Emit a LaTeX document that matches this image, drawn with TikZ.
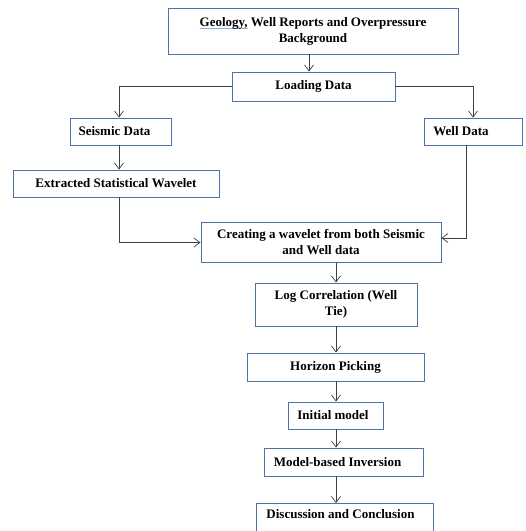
\documentclass[tikz,border=0pt]{standalone}
\usepackage{fontspec}
\usepackage{calc}
\setmainfont{Liberation Serif}
\usetikzlibrary{arrows.meta}
\definecolor{boxblue}{HTML}{4F72A8}
\definecolor{linegray}{HTML}{404040}
\definecolor{squig}{HTML}{8FB2E6}
\tikzset{
  box/.style={draw=boxblue, line width=0.9pt, fill=white, inner sep=2pt, align=center,
    font=\fontsize{13}{16}\selectfont\bfseries, text=black},
  conn/.style={draw=linegray, line width=0.8pt, -{Straight Barb[length=6pt,width=9pt,line width=0.7pt]}},
}
\begin{document}
\begin{tikzpicture}[x=1pt,y=-1pt]
\useasboundingbox (0,0) rectangle (526,531);
\clip (0,0) rectangle (526,531);
\node[box, minimum width=290pt, minimum height=46pt] (top) at (313,31)
  {\makebox[0pt][l]{\textcolor{squig}{\rule[-3pt]{\widthof{Geology,}}{1.4pt}}}Geology, Well Reports and Overpressure\\Background};
\node[box, minimum width=163pt, minimum height=29pt] (load) at (313.5,86.5) {Loading Data};
\node[box, minimum width=101pt, minimum height=27pt] (seis) at (120.5,131.5) {Seismic Data\hspace{12pt}};
\node[box, minimum width=98pt, minimum height=27pt] (well) at (473,131.5) {Well Data\hspace{24pt}};
\node[box, minimum width=206pt, minimum height=27pt] (extr) at (116,183.5) {Extracted Statistical Wavelet};
\node[box, minimum width=240pt, minimum height=40pt] (create) at (321,242.5) {Creating a wavelet from both Seismic\\and Well data};
\node[box, minimum width=162pt, minimum height=43pt] (log) at (336,304.5) {Log Correlation (Well\\Tie)};
\node[box, minimum width=177pt, minimum height=28pt] (hor) at (335.5,367) {Horizon Picking};
\node[box, minimum width=95pt, minimum height=27pt] (init) at (335.5,415.5) {Initial model\hspace{5pt}};
\node[box, minimum width=159pt, minimum height=28pt] (model) at (343.5,462) {Model-based Inversion\hspace{12pt}};
\node[box, minimum width=177pt, minimum height=44pt, anchor=north, text depth=22pt] (disc) at (344.5,503) {Discussion and Conclusion\hspace{8pt}};

\coordinate (c1) at (309,0);
\coordinate (cx) at (336,0);
\coordinate (sx) at (119,0);
\coordinate (wx) at (466,0);
\coordinate (wy) at (0,238);

\draw[conn] (top.south -| c1) -- (load.north -| c1);
\draw[conn] (load.west) -| (seis.north -| sx);
\draw[conn] (load.east) -| (well.north);
\draw[conn] (seis.south -| sx) -- (extr.north -| sx);
\draw[conn] (extr.south -| sx) |- (create.west);
\draw[conn] (well.south -| wx) |- (create.east |- wy);
\draw[conn] (create.south -| cx) -- (log.north -| cx);
\draw[conn] (log.south -| cx) -- (hor.north -| cx);
\draw[conn] (hor.south -| cx) -- (init.north -| cx);
\draw[conn] (init.south -| cx) -- (model.north -| cx);
\draw[conn] (model.south -| cx) -- (disc.north -| cx);
\end{tikzpicture}
\end{document}
